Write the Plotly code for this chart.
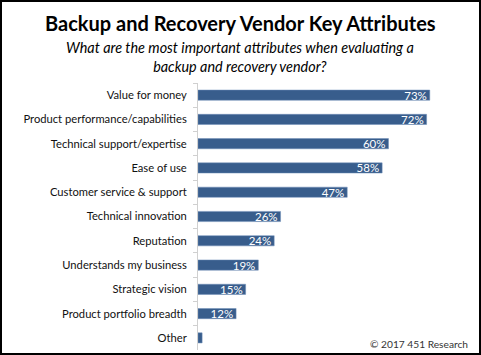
import plotly.graph_objects as go

categories = ["Value for money", "Product performance/capabilities", "Technical support/expertise",
              "Ease of use", "Customer service & support", "Technical innovation", "Reputation",
              "Understands my business", "Strategic vision", "Product portfolio breadth", "Other"]
values = [73, 72, 60, 58, 47, 26, 24, 19, 15, 12, 1.3]
labels = ["73%", "72%", "60%", "58%", "47%", "26%", "24%", "19%", "15%", "12%", ""]

title = "Backup and Recovery Vendor Key Attributes"
subtitle = "What are the most important attributes when evaluating a<br>backup and recovery vendor?"
source = "© 2017 451 Research"

W, H = 481, 355
L, R, T, B = 198, 29, 83, 5
PW, PH = W - L - R, H - T - B

def px(x):
    return (x - L) / PW

def py(y):
    return (H - B - y) / PH

FONT = "Lato"

fig = go.Figure(go.Bar(
    y=categories, x=values, orientation="h",
    marker=dict(color="#385d8c", line=dict(color="#6f8fb8", width=0.5)),
    text=labels, textposition="inside", insidetextanchor="end", constraintext="none",
    textfont=dict(color="white", size=11.5, family=FONT),
    cliponaxis=False, width=0.42,
))

fig.update_layout(
    width=W, height=H,
    margin=dict(l=L, r=R, t=T, b=B),
    paper_bgcolor="white", plot_bgcolor="white",
    showlegend=False,
    font=dict(family=FONT, size=11.2, color="#111111"),
    xaxis=dict(range=[0, 80], visible=False, fixedrange=True),
    yaxis=dict(autorange="reversed", showline=True, linecolor="#d0d0d0", linewidth=1,
               ticks="outside", tickson="boundaries", ticklen=4, tickcolor="#d0d0d0",
               ticklabelstandoff=8, tickfont=dict(size=11.2, family=FONT, color="#111111"),
               showgrid=False, zeroline=False, fixedrange=True),
    annotations=[
        dict(text="<b>" + title + "</b>", x=px(240), y=py(23), xref="paper", yref="paper",
             showarrow=False, xanchor="center", yanchor="middle",
             font=dict(size=20, family=FONT, color="black")),
        dict(text="<i>" + subtitle + "</i>", x=px(240), y=py(57), xref="paper", yref="paper",
             showarrow=False, xanchor="center", yanchor="middle",
             font=dict(size=14.4, family=FONT, color="black")),
        dict(text=source, x=px(470), y=py(344), xref="paper", yref="paper",
             showarrow=False, xanchor="right", yanchor="middle",
             font=dict(size=10.2, family=FONT, color="#333333")),
    ],
    shapes=[
        dict(type="rect", xref="paper", yref="paper", x0=px(1), x1=px(480), y0=py(1), y1=py(354),
             line=dict(color="black", width=2), fillcolor="rgba(0,0,0,0)", layer="above"),
    ],
)

fig.write_html("out.html", config={"displayModeBar": False},
               post_script="document.body.style.margin='0';")
